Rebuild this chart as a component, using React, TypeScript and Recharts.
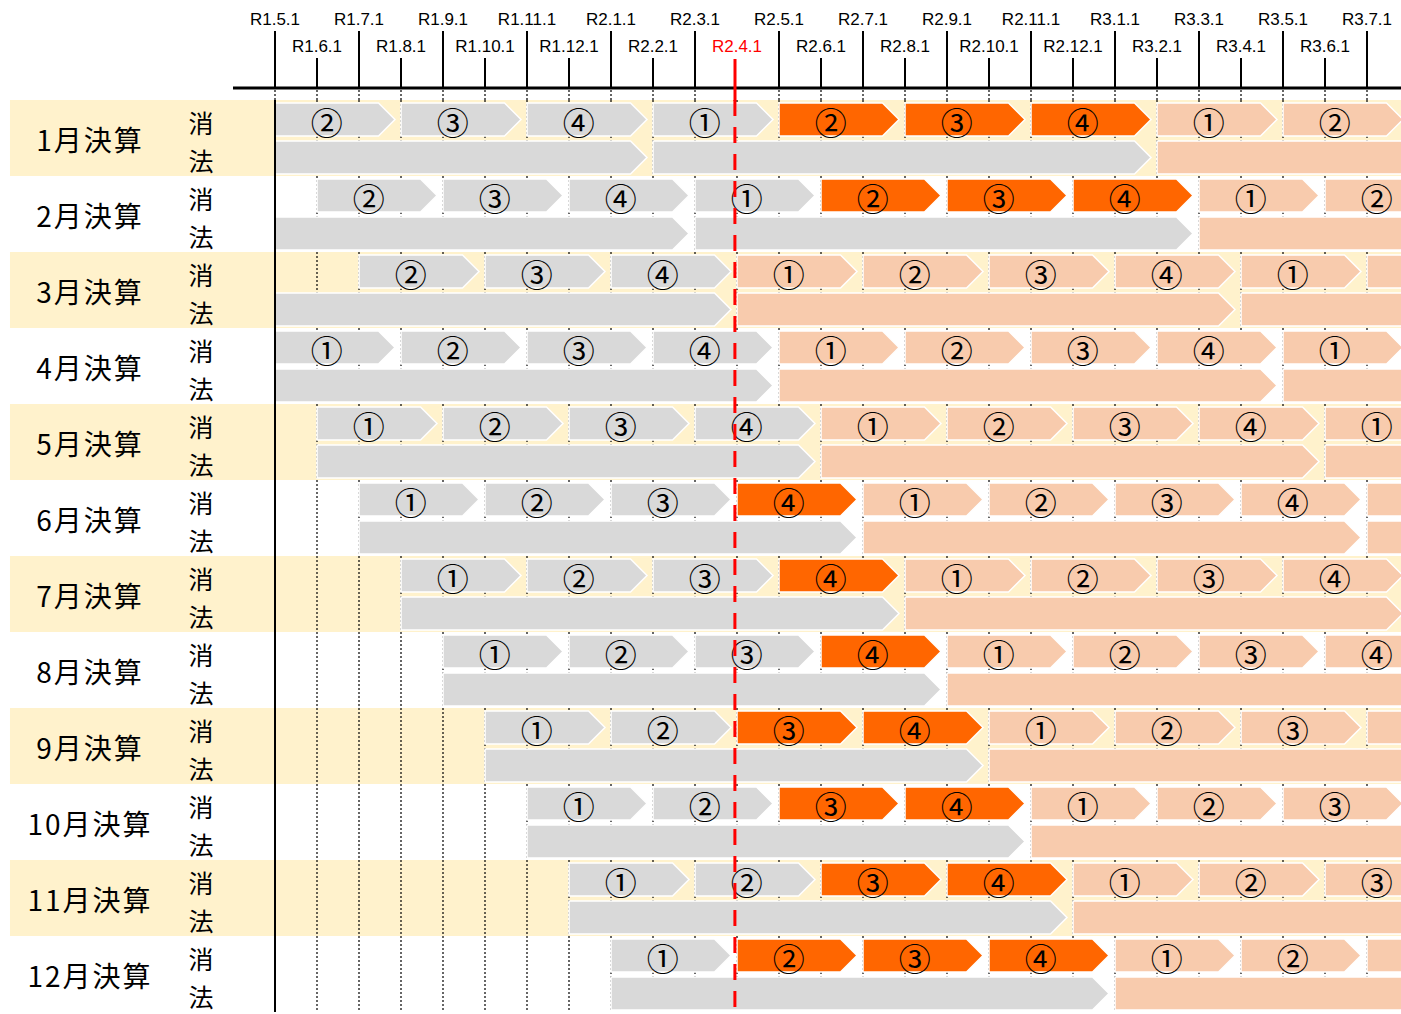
import React from "react";
import { ComposedChart, Bar, XAxis, YAxis, CartesianGrid, ReferenceLine, ReferenceArea } from "recharts";

const MONTH_TICKS = [
  "R1.5.1", "R1.6.1", "R1.7.1", "R1.8.1", "R1.9.1", "R1.10.1", "R1.11.1", "R1.12.1",
  "R2.1.1", "R2.2.1", "R2.3.1", "R2.4.1", "R2.5.1", "R2.6.1", "R2.7.1", "R2.8.1",
  "R2.9.1", "R2.10.1", "R2.11.1", "R2.12.1", "R3.1.1", "R3.2.1", "R3.3.1", "R3.4.1",
  "R3.5.1", "R3.6.1", "R3.7.1"
];
const RED_TICK = 11; // R2.4.1
const RED_AT = 10.95;

const GROUPS = [
  "1月決算", "2月決算", "3月決算", "4月決算", "5月決算", "6月決算",
  "7月決算", "8月決算", "9月決算", "10月決算", "11月決算", "12月決算"
];
const KINDS = ["消", "法"];

type Tone = "g" | "o" | "p";
type Seg = [number, number, string, Tone];

// 消費税: quarterly segments [start month, end month, quarter, tone]
const SHO: Seg[][] = [
  [[0, 3, "②", "g"], [3, 6, "③", "g"], [6, 9, "④", "g"], [9, 12, "①", "g"], [12, 15, "②", "o"], [15, 18, "③", "o"], [18, 21, "④", "o"], [21, 24, "①", "p"], [24, 27, "②", "p"]],
  [[1, 4, "②", "g"], [4, 7, "③", "g"], [7, 10, "④", "g"], [10, 13, "①", "g"], [13, 16, "②", "o"], [16, 19, "③", "o"], [19, 22, "④", "o"], [22, 25, "①", "p"], [25, 28, "②", "p"]],
  [[2, 5, "②", "g"], [5, 8, "③", "g"], [8, 11, "④", "g"], [11, 14, "①", "p"], [14, 17, "②", "p"], [17, 20, "③", "p"], [20, 23, "④", "p"], [23, 26, "①", "p"], [26, 29, "②", "p"]],
  [[0, 3, "①", "g"], [3, 6, "②", "g"], [6, 9, "③", "g"], [9, 12, "④", "g"], [12, 15, "①", "p"], [15, 18, "②", "p"], [18, 21, "③", "p"], [21, 24, "④", "p"], [24, 27, "①", "p"]],
  [[1, 4, "①", "g"], [4, 7, "②", "g"], [7, 10, "③", "g"], [10, 13, "④", "g"], [13, 16, "①", "p"], [16, 19, "②", "p"], [19, 22, "③", "p"], [22, 25, "④", "p"], [25, 28, "①", "p"]],
  [[2, 5, "①", "g"], [5, 8, "②", "g"], [8, 11, "③", "g"], [11, 14, "④", "o"], [14, 17, "①", "p"], [17, 20, "②", "p"], [20, 23, "③", "p"], [23, 26, "④", "p"], [26, 29, "①", "p"]],
  [[3, 6, "①", "g"], [6, 9, "②", "g"], [9, 12, "③", "g"], [12, 15, "④", "o"], [15, 18, "①", "p"], [18, 21, "②", "p"], [21, 24, "③", "p"], [24, 27, "④", "p"]],
  [[4, 7, "①", "g"], [7, 10, "②", "g"], [10, 13, "③", "g"], [13, 16, "④", "o"], [16, 19, "①", "p"], [19, 22, "②", "p"], [22, 25, "③", "p"], [25, 28, "④", "p"]],
  [[5, 8, "①", "g"], [8, 11, "②", "g"], [11, 14, "③", "o"], [14, 17, "④", "o"], [17, 20, "①", "p"], [20, 23, "②", "p"], [23, 26, "③", "p"], [26, 29, "④", "p"]],
  [[6, 9, "①", "g"], [9, 12, "②", "g"], [12, 15, "③", "o"], [15, 18, "④", "o"], [18, 21, "①", "p"], [21, 24, "②", "p"], [24, 27, "③", "p"]],
  [[7, 10, "①", "g"], [10, 13, "②", "g"], [13, 16, "③", "o"], [16, 19, "④", "o"], [19, 22, "①", "p"], [22, 25, "②", "p"], [25, 28, "③", "p"]],
  [[8, 11, "①", "g"], [11, 14, "②", "o"], [14, 17, "③", "o"], [17, 20, "④", "o"], [20, 23, "①", "p"], [23, 26, "②", "p"], [26, 29, "③", "p"]]
];

// 法人税: fiscal years
const HOU: Seg[][] = [
  [[0, 9, "", "g"], [9, 21, "", "g"], [21, 33, "", "p"]],
  [[0, 10, "", "g"], [10, 22, "", "g"], [22, 34, "", "p"]],
  [[0, 11, "", "g"], [11, 23, "", "p"], [23, 35, "", "p"]],
  [[0, 12, "", "g"], [12, 24, "", "p"], [24, 36, "", "p"]],
  [[1, 13, "", "g"], [13, 25, "", "p"], [25, 37, "", "p"]],
  [[2, 14, "", "g"], [14, 26, "", "p"], [26, 38, "", "p"]],
  [[3, 15, "", "g"], [15, 27, "", "p"]],
  [[4, 16, "", "g"], [16, 28, "", "p"]],
  [[5, 17, "", "g"], [17, 29, "", "p"]],
  [[6, 18, "", "g"], [18, 30, "", "p"]],
  [[7, 19, "", "g"], [19, 31, "", "p"]],
  [[8, 20, "", "g"], [20, 32, "", "p"]]
];

const TONE: Record<Tone, string> = { g: "#d9d9d9", o: "#ff6600", p: "#f8cbad" };
const CREAM = "#fff2cc";
const JP = "'Noto Sans CJK JP', sans-serif";
const W = 1401;
const H = 1014;
// the month axis runs on past the right edge and is cut off by the wrapper
const X_MAX = 38;
const CHART_W = 275 + X_MAX * 42;

const rows = GROUPS.flatMap((g, gi) =>
  [SHO[gi], HOU[gi]].map((segs, k) => {
    const r: any = { row: `${g}|${KINDS[k]}`, off: segs[0][0] };
    segs.forEach(([s, e, lab, tone], i) => {
      r[`v${i}`] = e - s;
      r[`l${i}`] = lab;
      r[`t${i}`] = tone;
    });
    return r;
  })
);
const SEG_KEYS = Array.from({ length: 9 }, (_, i) => i);

function Chevron(props: any) {
  const { x, y, width, height, tone, label } = props;
  if (!tone || !width || width <= 0) return null;
  const tip = height / 2;
  const r = x + width - 6;
  const pts = `${x},${y} ${r - tip},${y} ${r},${y + height / 2} ${r - tip},${y + height} ${x},${y + height}`;
  const lx = x + (width - 6 - tip) / 2;
  return (
    <g>
      <polygon points={pts} fill={TONE[tone as Tone]} stroke="#fff" strokeWidth={1.5} />
      {label && lx < W - 12 ? (
        <text x={lx} y={y + height / 2 + 1} textAnchor="middle" dominantBaseline="central"
          fontSize={32} fontFamily={JP} fill="#000">{label}</text>
      ) : null}
    </g>
  );
}

function MonthTick(props: any) {
  const { x, payload, index } = props;
  const i = payload.value as number;
  const upper = i % 2 === 0;
  const red = i === RED_TICK;
  return (
    <g>
      {index === 0 && <line x1={x - 42} x2={CHART_W} y1={88} y2={88} stroke="#000" strokeWidth={3} />}
      {!red && <line x1={x} x2={x} y1={upper ? 31 : 58} y2={88} stroke="#000" strokeWidth={2} />}
      {!red && <line x1={x} x2={x} y1={90} y2={100} stroke="#000" strokeWidth={1.2} strokeDasharray="2 2" />}
      {red && <line x1={x - 2} x2={x - 2} y1={59} y2={101} stroke="#ff0000" strokeWidth={3} />}
      <text x={x} y={upper ? 25 : 52} textAnchor="middle" fontSize={17} fill={red ? "#ff0000" : "#000"}
        fontFamily="'Liberation Sans', Arial, sans-serif">{MONTH_TICKS[i]}</text>
    </g>
  );
}

function RowTick(props: any) {
  const { y, payload } = props;
  const [g, k] = String(payload.value).split("|");
  return (
    <g>
      {k === "消" && (
        <text x={90} y={y + 20} textAnchor="middle" dominantBaseline="central" fontSize={28}
          letterSpacing={2} fontFamily={JP} fill="#000">{g}</text>
      )}
      <text x={201} y={y + 3} textAnchor="middle" dominantBaseline="central" fontSize={25}
        fontFamily={JP} fill="#000">{k}</text>
    </g>
  );
}

export default function App() {
  return (
    <div style={{ position: "absolute", left: 0, top: 0, width: W, height: H, overflow: "hidden", background: "#fff" }}>
      <ComposedChart width={CHART_W} height={H} data={rows} layout="vertical"
        margin={{ top: 0, right: 0, bottom: 2, left: 0 }}>
        {GROUPS.filter((_, gi) => gi % 2 === 0).map((g) => (
          <ReferenceArea key={g} x1={-6.31} x2={X_MAX} y1={`${g}|消`} y2={`${g}|法`}
            fill={CREAM} fillOpacity={1} stroke="none" ifOverflow="visible" zIndex={-200} />
        ))}
        <CartesianGrid vertical horizontal={false} stroke="#000" strokeWidth={1.2} strokeDasharray="2 2" />
        <XAxis type="number" orientation="top" height={100} domain={[0, X_MAX]} allowDataOverflow
          ticks={MONTH_TICKS.map((_, i) => i)} interval={0} tickLine={false} axisLine={false}
          tick={(p: any) => <MonthTick {...p} />} />
        <YAxis type="category" dataKey="row" width={275} interval={0} tickLine={false} axisLine={false}
          tick={(p: any) => <RowTick {...p} />} />
        <Bar dataKey="off" stackId="s" barSize={33} isAnimationActive={false} shape={() => <g />} />
        {SEG_KEYS.map((i) => (
          <Bar key={i} dataKey={`v${i}`} stackId="s" barSize={33} isAnimationActive={false}
            shape={(p: any) => <Chevron {...p} tone={p.payload?.[`t${i}`]} label={p.payload?.[`l${i}`]} />} />
        ))}
        <ReferenceLine x={0} stroke="#000" strokeWidth={2} />
        <ReferenceLine x={RED_AT} stroke="#ff0000" strokeWidth={3} strokeDasharray="16 11" />
      </ComposedChart>
    </div>
  );
}
